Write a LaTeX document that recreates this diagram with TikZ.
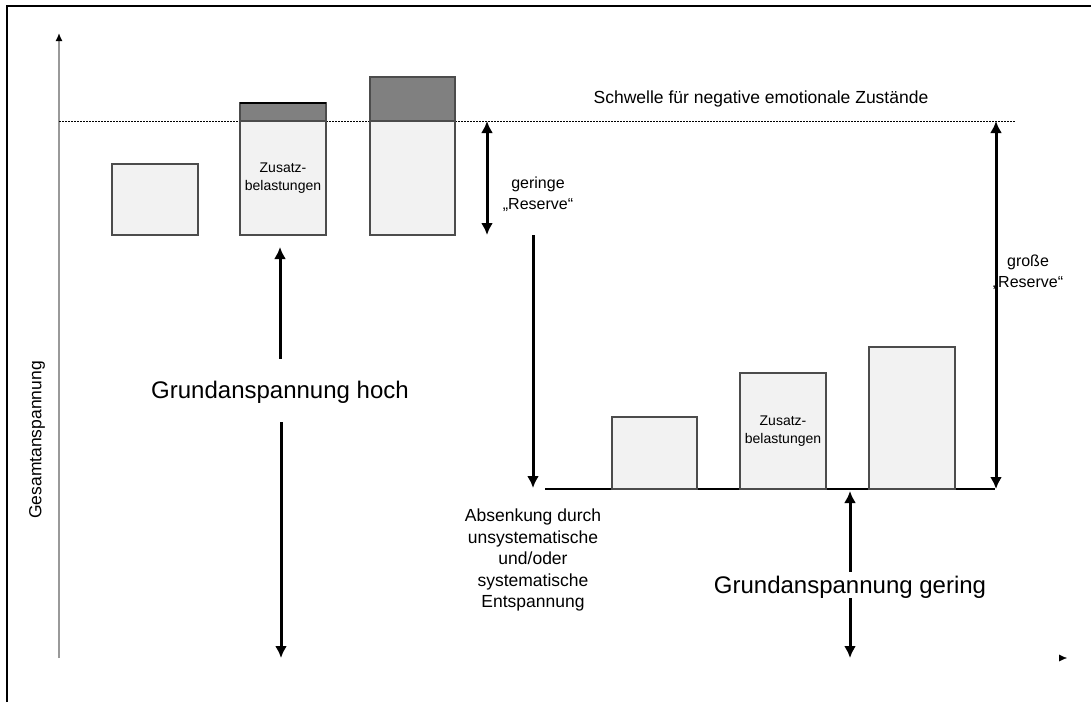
\documentclass[tikz,border=0pt]{standalone}
\usepackage{fontspec}
\setmainfont{Liberation Sans}
\usetikzlibrary{arrows.meta,positioning}

\begin{document}
\begin{tikzpicture}[x=1pt, y=-1pt,
    >={Latex[length=12pt,width=12pt]},
    loadbox/.style={draw=black!70, line width=1.3pt, fill=black!5,
      inner sep=0pt, outer sep=0pt, anchor=south west, align=center,
      font=\fontsize{14}{18}\selectfont},
    overbox/.style={loadbox, fill=black!50},
    thickarrow/.style={line width=3pt},
    restext/.style={font=\fontsize{16}{21}\selectfont, align=center, inner sep=0pt},
    midtext/.style={font=\fontsize{17.5}{21.5}\selectfont, align=center, inner sep=0pt},
    bigtext/.style={font=\fontsize{24}{28}\selectfont, inner sep=0pt}]
  \useasboundingbox (0,0) rectangle (1091,702);

  % Frame
  \draw[line width=2pt] (7,702) -- (7,6) -- (1091,6);

  % Axes
  \coordinate (origin) at (59,658);
  \coordinate (ytop) at (59,33);
  \coordinate (xend) at (1067,658);
  \draw[white, -{Latex[black,length=8pt,width=7pt]}] (origin) -- (xend);
  \draw[black!40, line width=1.5pt, -{Latex[black,length=8pt,width=7pt]}] (origin) -- (ytop);
  \node[midtext, rotate=90] (yname) at (37,440) {Gesamtanspannung};

  % Threshold
  \coordinate (thrL) at (59,121);
  \coordinate (thrR) at (1015,121);
  \draw[dash pattern=on 1.5pt off 1.5pt, line width=0.8pt] (thrL) -- (thrR);
  \node[midtext] (thrtext) at (761,99) {Schwelle für negative emotionale Zustände};

  % High basic tension: loads
  \node[loadbox, minimum width=86pt, minimum height=71pt] (high1) at (112,235) {};
  \node[loadbox, minimum width=86pt, minimum height=114pt] (high2) at (240,235) {Zusatz-\\belastungen};
  \node[overbox, minimum width=86pt, minimum height=18pt, above=0pt of high2] (high2top) {};
  \draw[line width=2.2pt] (high2top.north west) -- (high2top.north east);
  \node[loadbox, minimum width=85pt, minimum height=114pt] (high3) at (370,235) {};
  \node[overbox, minimum width=85pt, minimum height=44pt, above=0pt of high3] (high3top) {};

  % geringe Reserve
  \coordinate (smallresA) at (487,121);
  \coordinate (smallresB) at (487,235);
  \draw[thickarrow,<->] (smallresA) -- (smallresB);
  \node[restext] (smallres) at (538,194) {geringe\\„Reserve“};

  % Grundanspannung hoch
  \node[bigtext] (hoch) at (280,392) {Grundanspannung hoch};
  \coordinate (hochup) at (280,247);
  \coordinate (hochdown) at (281,658);
  \draw[thickarrow,->] ([yshift=22pt]hoch.north) -- (hochup);
  \draw[thickarrow,->] ([xshift=1pt,yshift=-19pt]hoch.south) -- (hochdown);

  % Lowered level: loads
  \coordinate (baseL) at (545,489);
  \coordinate (baseR) at (995,489);
  \draw[line width=1.3pt] (baseL) -- (baseR);
  \node[loadbox, minimum width=85pt, minimum height=72pt] (low1) at (612,489) {};
  \node[loadbox, minimum width=86pt, minimum height=116pt] (low2) at (740,489) {Zusatz-\\belastungen};
  \node[loadbox, minimum width=86pt, minimum height=142pt] (low3) at (869,489) {};

  % Absenkung
  \coordinate (dropA) at (533,235);
  \coordinate (dropB) at (533,488);
  \draw[thickarrow,->] (dropA) -- (dropB);
  \node[midtext] (drop) at (533,560) {Absenkung durch\\unsystematische\\und/oder\\systematische\\Entspannung};

  % große Reserve
  \coordinate (bigresA) at (996,121);
  \coordinate (bigresB) at (996,489);
  \draw[thickarrow,<->] (bigresA) -- (bigresB);
  \node[restext] (bigres) at (1028,272) {große\\„Reserve“};

  % Grundanspannung gering
  \node[bigtext] (gering) at (850,587) {Grundanspannung gering};
  \coordinate (geringup) at (850,491);
  \coordinate (geringdown) at (850,658);
  \draw[thickarrow,->] ([yshift=4pt]gering.north) -- (geringup);
  \draw[thickarrow,->] (gering.south) -- (geringdown);
\end{tikzpicture}
\end{document}
